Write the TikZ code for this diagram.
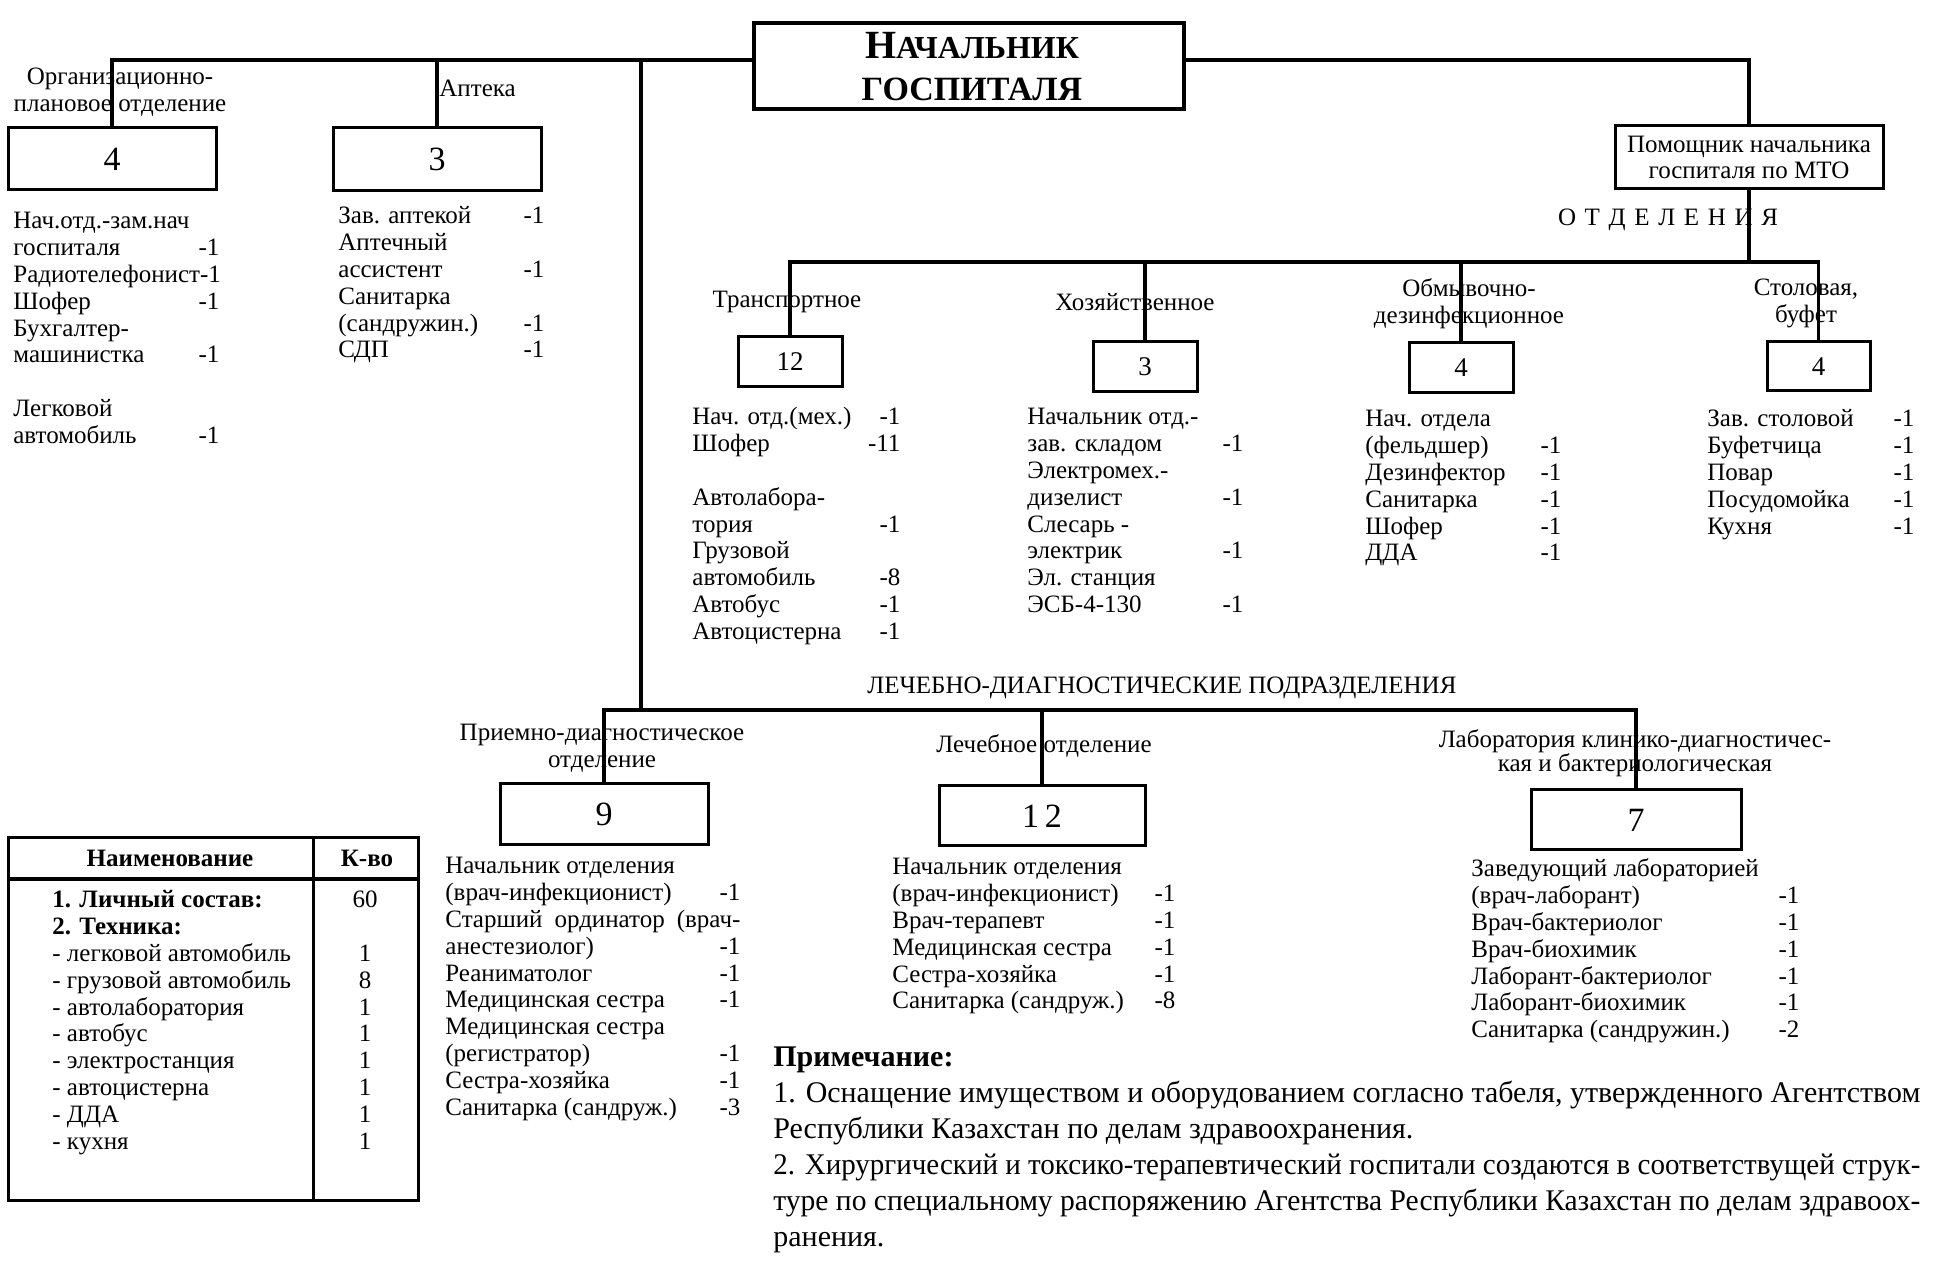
\documentclass[tikz,border=0pt]{standalone}
\usepackage{fontspec}
\usepackage{graphicx}
\setmainfont{Liberation Serif}
\begin{document}
\begin{tikzpicture}[x=0.5pt,y=-0.5pt,
  box/.style={draw,line width=1.5pt,inner sep=0pt},
  conn/.style={line width=1.6pt},
  lbl/.style={inner sep=0pt,align=center,font=\fontsize{12.5}{13.5}\selectfont},
  blk/.style={anchor=base west,inner sep=0pt,font=\fontsize{12.5}{13.4}\selectfont},
  bignum/.style={font=\fontsize{17}{17}\selectfont},
  smallnum/.style={font=\fontsize{13.5}{13.5}\selectfont}]
\useasboundingbox (0,0) rectangle (1935,1272);
\fill[white] (0,0) rectangle (1935,1272);

% ---------- head ----------
\node[box,line width=1.8pt,minimum width=215pt,minimum height=43pt] (chief) at (969,66) {};
\node[inner sep=0pt,font=\bfseries] (chiefA) at (972,46) {{\fontsize{20}{20}\selectfont Н}{\fontsize{16}{16}\selectfont АЧАЛЬНИК}};
\node[inner sep=0pt,font=\bfseries\fontsize{17}{17}\selectfont] (chiefB) at (972,89) {ГОСПИТАЛЯ};

\node[box,minimum width=134pt,minimum height=31.5pt,align=center,font=\fontsize{12.5}{13}\selectfont] (mto) at (1749,157.5) {Помощник начальника\\госпиталя по МТО};

% ---------- boxes ----------
\node[box,bignum,minimum width=104pt,minimum height=31pt] (org) at (112,159) {4};
\node[box,bignum,minimum width=104pt,minimum height=31.5pt] (apt) at (437,159.5) {3};
\node[box,smallnum,minimum width=52pt,minimum height=25pt] (tr) at (790,362) {12};
\node[box,smallnum,minimum width=52pt,minimum height=25pt] (hoz) at (1145,367) {3};
\node[box,smallnum,minimum width=52pt,minimum height=25pt] (obm) at (1461,368) {4};
\node[box,smallnum,minimum width=51.5pt,minimum height=24.5pt] (sto) at (1818.5,366.5) {4};
\node[box,bignum,minimum width=104pt,minimum height=30.5pt] (b9) at (604,814.5) {9};
\node[box,bignum,minimum width=103pt,minimum height=30pt] (b12) at (1042,816) {1\hspace{3pt}2};
\node[box,bignum,minimum width=105pt,minimum height=30pt] (b7) at (1636,820) {7};

% ---------- labels ----------
\node[lbl] (lorg) at (120,92.5) {Организационно-\\плановое отделение};
\node[lbl,anchor=west] (lapt) at (439,88) {Аптека};
\node[lbl] (ltr) at (787,302) {Транспортное};
\node[lbl] (lhoz) at (1135,302) {Хозяйственное};
\node[lbl] (lobm) at (1469,303.5) {Обмывочно-\\дезинфекционное};
\node[lbl] (lsto) at (1806,303.5) {Столовая,\\буфет};
\node[lbl] (l9) at (602,748.5) {Приемно-диагностическое\\отделение};
\node[lbl] (l12) at (1044,746) {Лечебное отделение};
\node[lbl,font=\fontsize{12.5}{12}\selectfont] (l7) at (1635,753.5) {Лаборатория клинико-диагностичес-\\кая и бактериологическая};
\node[inner sep=0pt,font=\fontsize{12.5}{12.5}\selectfont] (otd) at (1668,220) {\makebox[110pt][s]{О Т Д Е Л Е Н И Я}};
\node[anchor=west,inner sep=0pt,font=\fontsize{12.5}{12.5}\selectfont] (ldt) at (867,688) {ЛЕЧЕБНО-ДИАГНОСТИЧЕСКИЕ ПОДРАЗДЕЛЕНИЯ};

% ---------- connectors ----------
\coordinate (topY) at (0,60);
\coordinate (otdY) at (0,262);
\coordinate (ldY) at (0,710);
\coordinate (mainTop) at (641,60);
\draw[conn] (org.north) -- (org.north |- topY) -- (chief.west |- topY);
\draw[conn] (chief.east |- topY) -| (mto.north);
\draw[conn] (apt.north) -- (apt.north |- topY);
\draw[conn] (mainTop) -- (mainTop |- ldY);
\draw[conn] (mto.south) -- (mto.south |- otdY);
\draw[conn] (tr.north) |- (sto.north |- otdY) -- (sto.north);
\draw[conn] (hoz.north) -- (hoz.north |- otdY);
\draw[conn] (obm.north) -- (obm.north |- otdY);
\draw[conn] (b9.north) |- (b7.north |- ldY) -- (b7.north);
\draw[conn] (b12.north) -- (b12.north |- ldY);

% ---------- staff lists ----------
\node[blk] (tOrg) at (13,229) {\parbox[t]{103pt}{Нач.отд.-зам.нач\\госпиталя\hfill -1\\\mbox{Радиотелефонист-1}\\Шофер\hfill -1\\Бухгалтер-\\машинистка\hfill -1\\\mbox{}\\Легковой\\автомобиль\hfill -1}};
\node[blk] (tApt) at (338,224) {\parbox[t]{103pt}{Зав. аптекой\hfill -1\\Аптечный\\ассистент\hfill -1\\Санитарка\\(сандружин.)\hfill -1\\СДП\hfill -1}};
\node[blk] (tTr) at (692,425) {\parbox[t]{104pt}{Нач. отд.(мех.)\hfill -1\\Шофер\hfill -11\\\mbox{}\\Автолабора-\\тория\hfill -1\\Грузовой\\автомобиль\hfill -8\\Автобус\hfill -1\\Автоцистерна\hfill -1}};
\node[blk] (tHoz) at (1027,425) {\parbox[t]{108pt}{Начальник отд.-\\зав. складом\hfill -1\\Электромех.-\\дизелист\hfill -1\\Слесарь -\\электрик\hfill -1\\Эл. станция\\ЭСБ-4-130\hfill -1}};
\node[blk] (tObm) at (1365,427) {\parbox[t]{98pt}{Нач. отдела\\(фельдшер)\hfill -1\\Дезинфектор\hfill -1\\Санитарка\hfill -1\\Шофер\hfill -1\\ДДА\hfill -1}};
\node[blk] (tSto) at (1707,427) {\parbox[t]{103.5pt}{Зав. столовой\hfill -1\\Буфетчица\hfill -1\\Повар\hfill -1\\Посудомойка\hfill -1\\Кухня\hfill -1}};
\node[blk] (t9) at (445,874) {\parbox[t]{147.5pt}{Начальник отделения\\(врач-инфекционист)\hfill -1\\Старший\hfill ординатор\hfill (врач-\\анестезиолог)\hfill -1\\Реаниматолог\hfill -1\\Медицинская сестра\hfill -1\\Медицинская сестра\\(регистратор)\hfill -1\\Сестра-хозяйка\hfill -1\\Санитарка (сандруж.)\hfill -3}};
\node[blk] (t12) at (892,875) {\parbox[t]{141.5pt}{Начальник отделения\\(врач-инфекционист)\hfill -1\\Врач-терапевт\hfill -1\\Медицинская сестра\hfill -1\\Сестра-хозяйка\hfill -1\\Санитарка (сандруж.)\hfill -8}};
\node[blk] (t7) at (1471,877) {\parbox[t]{164pt}{Заведующий лабораторией\\(врач-лаборант)\hfill -1\\Врач-бактериолог\hfill -1\\Врач-биохимик\hfill -1\\Лаборант-бактериолог\hfill -1\\Лаборант-биохимик\hfill -1\\Санитарка (сандружин.)\hfill -2}};

% ---------- notes ----------
\node[anchor=base west,inner sep=0pt,font=\fontsize{15}{18}\selectfont] (notes) at (773,1066) {\parbox[t]{573.5pt}{%
{\bfseries Примечание:}\\
\resizebox{573.5pt}{\height}{1. Оснащение имуществом и оборудованием согласно табеля, утвержденного Агентством}\\
Республики Казахстан по делам здравоохранения.\\
\resizebox{573.5pt}{\height}{2. Хирургический и токсико-терапевтический госпитали создаются в соответствущей струк-}\\
\resizebox{573.5pt}{\height}{туре по специальному распоряжению Агентства Республики Казахстан по делам здравоох-}\\
ранения.}};

% ---------- table ----------
\node[draw,line width=1.5pt,minimum width=205pt,minimum height=181pt,inner sep=0pt] (tab) at (213,1019) {};
\coordinate (hdrY) at (0,879);
\coordinate (colX) at (313,0);
\draw[line width=2pt] (tab.west |- hdrY) -- (tab.east |- hdrY);
\draw[line width=1.5pt] (tab.north -| colX) -- (tab.south -| colX);
\node[inner sep=0pt,font=\bfseries\fontsize{12.5}{12.5}\selectfont] (hName) at (170,858) {Наименование};
\node[inner sep=0pt,font=\bfseries\fontsize{12.5}{12.5}\selectfont] (hQty) at (367,858) {К-во};
\node[blk] (tabNames) at (52,908) {\parbox[t]{125pt}{{\bfseries 1. Личный состав:}\\{\bfseries 2. Техника:}\\- легковой автомобиль\\- грузовой автомобиль\\- автолаборатория\\- автобус\\- электростанция\\- автоцистерна\\- ДДА\\- кухня}};
\node[blk,anchor=base] (tabQty) at (365,908) {\parbox[t]{30pt}{\centering 60\\\mbox{}\\1\\8\\1\\1\\1\\1\\1\\1}};
\end{tikzpicture}
\end{document}
